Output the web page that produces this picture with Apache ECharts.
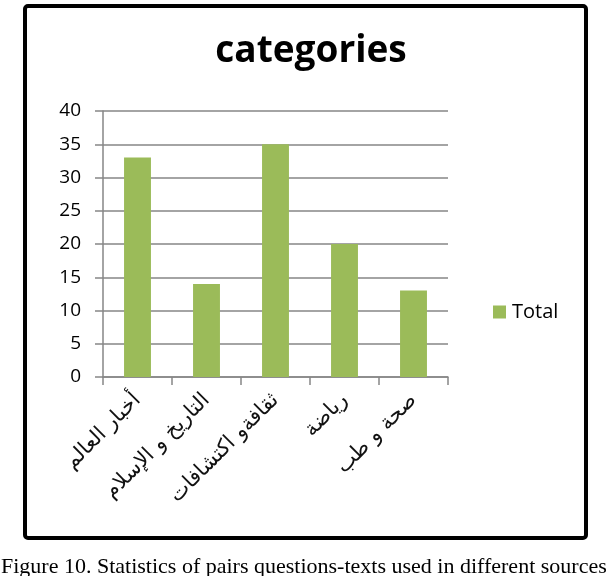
<!DOCTYPE html>
<html>
<head>
<meta charset="utf-8">
<script src="https://cdn.jsdelivr.net/npm/echarts@6/dist/echarts.min.js"></script>
<style>
  html, body { margin: 0; padding: 0; background: #fff; }
  #chart { width: 614px; height: 576px; }
</style>
</head>
<body>
<div id="chart"></div>
<script>
// categories (Arabic) and counts
const categories = ['أخبار العالم', 'التاريخ و الإسلام', 'ثقافةو اكتشافات', 'رياضة', 'صحة و طب'];
const totals = [33, 14, 35, 20, 13];
const caption = 'Figure 10. Statistics of pairs questions-texts used in different sources';

const chart = echarts.init(document.getElementById('chart'));
const axisGray = '#868686';

chart.setOption({
  animation: false,
  title: {
    text: 'categories',
    left: 306,
    textAlign: 'center',
    top: 28,
    textStyle: { fontFamily: 'Open Sans', fontWeight: 'bold', fontSize: 37, color: '#000' }
  },
  legend: {
    left: 488,
    top: 297,
    icon: 'rect',
    itemWidth: 13,
    itemHeight: 13,
    itemGap: 6,
    textStyle: { fontFamily: 'Open Sans', fontSize: 20, color: '#000', padding: [0, 0, 0, 1] },
    data: ['Total']
  },
  grid: { left: 103, right: 166, top: 111, bottom: 199 },
  xAxis: {
    type: 'category',
    data: categories,
    axisLine: { lineStyle: { color: axisGray, width: 1.5 } },
    axisTick: { show: true, length: 8, lineStyle: { color: axisGray, width: 1.5 } },
    axisLabel: {
      rotate: 45,
      interval: 0,
      margin: 20,
      fontFamily: 'DejaVu Sans',
      fontSize: 21,
      color: '#111'
    }
  },
  yAxis: {
    type: 'value',
    min: 0,
    max: 40,
    interval: 5,
    axisLine: { show: true, lineStyle: { color: axisGray, width: 1.5 } },
    axisTick: { show: true, length: 8, lineStyle: { color: axisGray, width: 1.5 } },
    splitLine: { lineStyle: { color: axisGray, width: 1.5 } },
    axisLabel: { margin: 22, fontFamily: 'Open Sans', fontSize: 19, color: '#000' }
  },
  series: [{
    name: 'Total',
    type: 'bar',
    data: totals,
    barWidth: '39%',
    itemStyle: { color: '#9bbb59' }
  }],
  graphic: [
    {
      type: 'rect',
      shape: { x: 25, y: 6, width: 561, height: 532, r: 3 },
      style: { fill: 'none', stroke: '#000', lineWidth: 4 },
      z: 100
    },
    {
      type: 'text',
      left: 1,
      top: 556,
      style: {
        text: caption,
        font: '22px "Liberation Serif"',
        fill: '#000'
      }
    }
  ]
});
</script>
</body>
</html>
